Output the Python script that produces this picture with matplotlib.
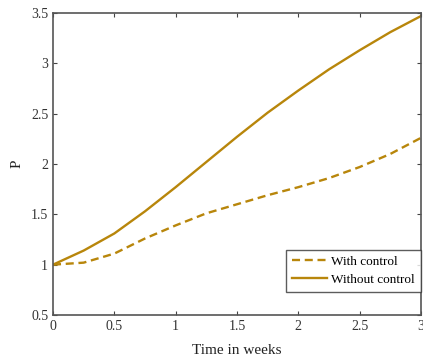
import matplotlib
matplotlib.use("Agg")
import matplotlib.pyplot as plt

t = [0, 0.25, 0.5, 0.75, 1.0, 1.25, 1.5, 1.75, 2.0, 2.25, 2.5, 2.75, 3.0]
with_control = [1.0, 1.02, 1.11, 1.26, 1.39, 1.51, 1.60, 1.69, 1.77, 1.86, 1.97, 2.10, 2.26]
without_control = [1.0, 1.14, 1.31, 1.53, 1.77, 2.02, 2.27, 2.51, 2.73, 2.94, 3.13, 3.31, 3.47]
xticks = [0, 0.5, 1, 1.5, 2, 2.5, 3]
xticklabels = ["0", "0.5", "1", "1.5", "2", "2.5", "3"]
yticks = [0.5, 1, 1.5, 2, 2.5, 3, 3.5]
yticklabels = ["0.5", "1", "1.5", "2", "2.5", "3", "3.5"]

plt.rcParams['font.family'] = ['Liberation Serif', 'DejaVu Serif']
color = '#B8860B'

fig = plt.figure(figsize=(4.23, 3.59), dpi=100)
ax = fig.add_axes([53/423, 1-315/359, (421-53)/423, (315-13)/359])

ax.plot(t, with_control, '--', color=color, lw=1.7, dashes=(3.4, 2.0), label='With control')
ax.plot(t, without_control, '-', color=color, lw=1.7, label='Without control')

ax.set_xlim(0, 3)
ax.set_ylim(0.5, 3.5)
ax.set_xticks(xticks)
ax.set_xticklabels(xticklabels)
ax.set_yticks(yticks)
ax.set_yticklabels(yticklabels)
ax.tick_params(direction='in', top=True, right=True, length=3, width=0.8,
               colors='#444444', labelsize=10, labelcolor='#333333')
for s in ax.spines.values():
    s.set_color('#555555')
    s.set_linewidth(1.2)

ax.set_xlabel('Time in weeks', fontsize=11, color='#222222', labelpad=8)
ax.set_ylabel('P', fontsize=11, color='#222222', labelpad=5)

leg = ax.legend(loc='lower right', bbox_to_anchor=(1.0, 0.076), fontsize=9.5,
                frameon=True, fancybox=False, handlelength=2.7, handletextpad=0.3,
                borderpad=0.45, labelspacing=0.45, borderaxespad=0)
leg.get_frame().set_edgecolor('#333333')
leg.get_frame().set_linewidth(1.0)

fig.savefig('out.png', dpi=100)
